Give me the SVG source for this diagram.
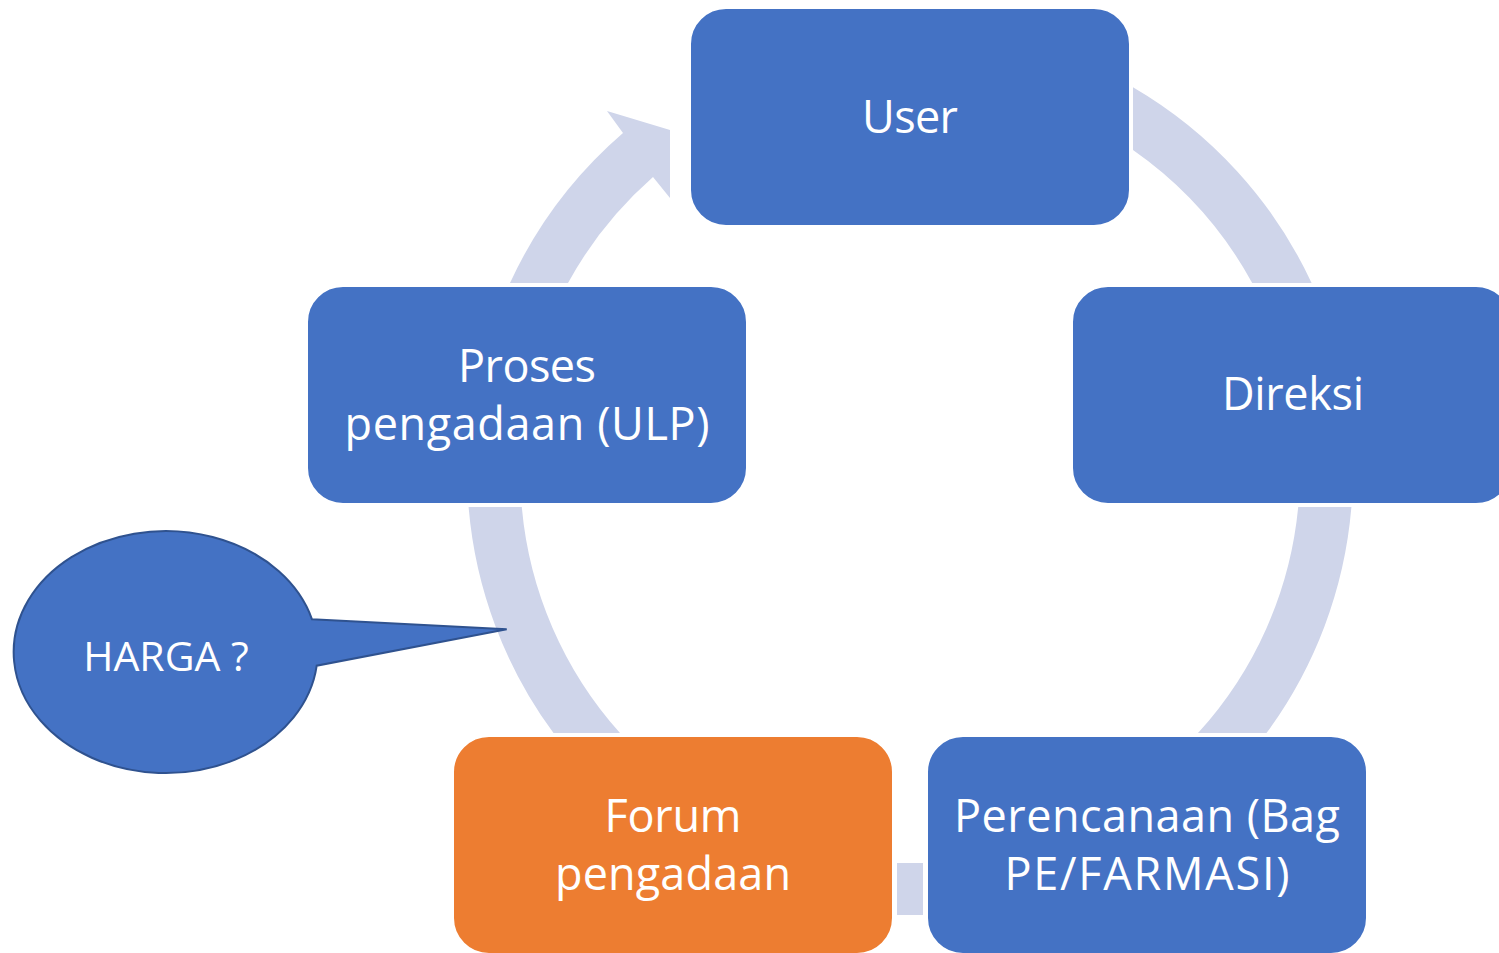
<svg xmlns="http://www.w3.org/2000/svg" width="1499" height="953" viewBox="0 0 1499 953">
<style>
.band{fill:#CFD5EA;}
.node{fill:#4472C4;stroke:#FFFFFF;stroke-width:2;}
.orange{fill:#ED7D31;}
.lbl{font-family:"Open Sans","Liberation Sans",sans-serif;font-size:45px;fill:#FFFFFF;text-anchor:middle;}
.small{font-size:41px;}
.callout{fill:#4472C4;stroke:#2F528F;stroke-width:2;}
</style>
<rect width="1499" height="953" fill="#FFFFFF"/>
<g id="connectors">
<path class="band" d="M 510,283 A 443 443 0 0 1 623,133 L 607,111 L 670,130 L 670,198 L 653,177 A 390 390 0 0 0 568,283 Z"/>
<path class="band" d="M 1133,87.2 A 443 443 0 0 1 1311.6,283 L 1252.2,283 A 390 390 0 0 0 1133,150 Z"/>
<path class="band" d="M 1351.4,507 A 443 443 0 0 1 1266.5,733 L 1198,733 A 390 390 0 0 0 1298.2,507 Z"/>
<rect class="band" x="897" y="863" width="26" height="52"/>
<path class="band" d="M 553.5,733 A 443 443 0 0 1 468.6,507 L 521.8,507 A 390 390 0 0 0 620,733 Z"/>
</g>
<g id="node-user">
<rect class="node" x="690" y="8" width="440" height="218" rx="36" ry="36"/>
<text class="lbl" x="910" y="133" textLength="96">User</text>
</g>
<g id="node-direksi">
<rect class="node" x="1072" y="286" width="440" height="218" rx="36" ry="36"/>
<text class="lbl" x="1293" y="410" textLength="142">Direksi</text>
</g>
<g id="node-perencanaan">
<rect class="node" x="927" y="736" width="440" height="218" rx="36" ry="36"/>
<text class="lbl" x="1147" y="832" textLength="386">Perencanaan (Bag</text>
<text class="lbl" x="1147" y="890" textLength="285">PE/FARMASI)</text>
</g>
<g id="node-forum">
<rect class="node orange" x="453" y="736" width="440" height="218" rx="36" ry="36"/>
<text class="lbl" x="673" y="832" textLength="137">Forum</text>
<text class="lbl" x="673" y="890" textLength="236">pengadaan</text>
</g>
<g id="node-proses">
<rect class="node" x="307" y="286" width="440" height="218" rx="36" ry="36"/>
<text class="lbl" x="527" y="382" textLength="138">Proses</text>
<text class="lbl" x="527" y="440" textLength="365">pengadaan (ULP)</text>
</g>
<g id="callout-harga">
<path class="callout" d="M 312,619.3 L 506.7,629.3 L 316.7,665.7 A 152 121 0 1 1 312,619.3 Z"/>
<text class="lbl small" x="166" y="671">HARGA ?</text>
</g>
</svg>
